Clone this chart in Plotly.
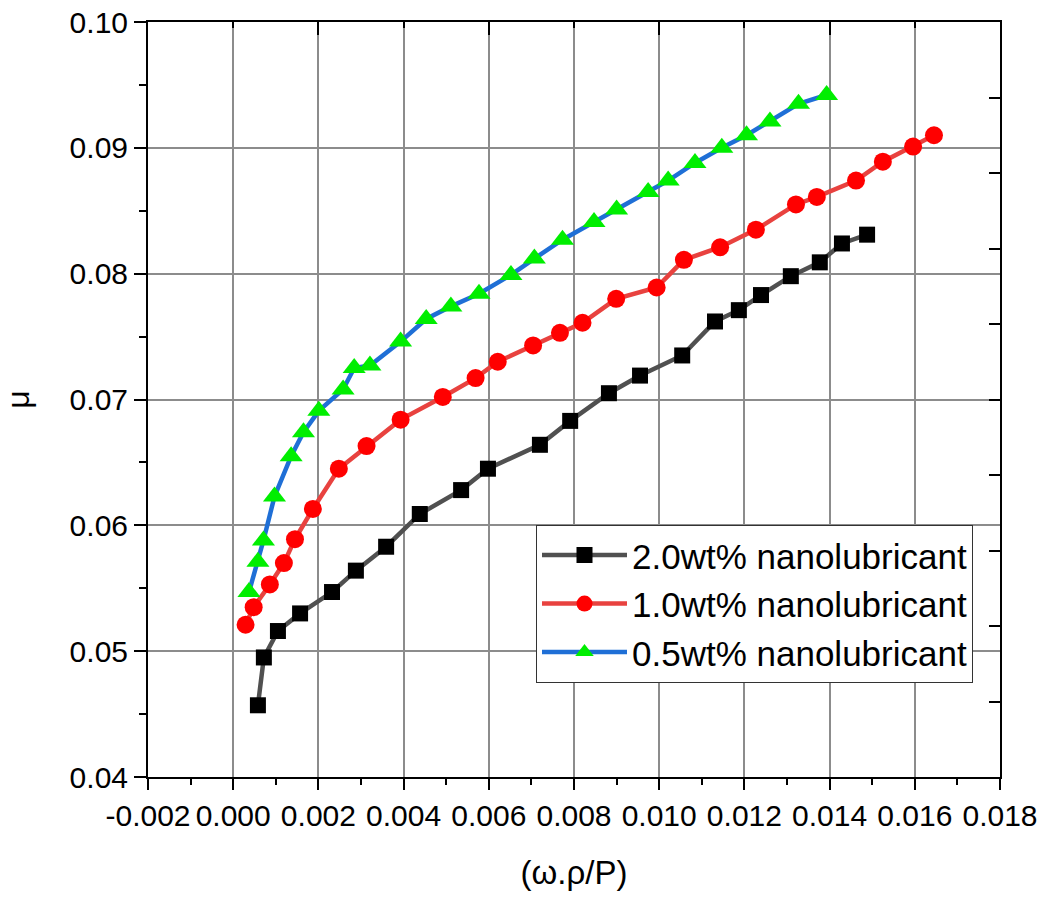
import plotly.graph_objects as go

# ---- data ----
x_20 = [0.00058, 0.00072, 0.00105, 0.00157, 0.00232, 0.00288, 0.00359, 0.00438, 0.00535, 0.00598,
        0.00720, 0.00791, 0.00882, 0.00955, 0.01054, 0.01131, 0.01187, 0.01239, 0.01309, 0.01377,
        0.01429, 0.01488]
y_20 = [0.0457, 0.0495, 0.0516, 0.0530, 0.0547, 0.0564, 0.0583, 0.0609, 0.0628, 0.0645,
        0.0664, 0.0683, 0.0705, 0.0719, 0.0735, 0.0762, 0.0771, 0.0783, 0.0798, 0.0809,
        0.0824, 0.0831]

x_10 = [0.00029, 0.00048, 0.00086, 0.00119, 0.00145, 0.00187, 0.00248, 0.00313, 0.00393, 0.00492,
        0.00569, 0.00621, 0.00704, 0.00767, 0.00820, 0.00899, 0.00994, 0.01058, 0.01143, 0.01227,
        0.01321, 0.01370, 0.01462, 0.01525, 0.01596, 0.01645]
y_10 = [0.0521, 0.0535, 0.0553, 0.0570, 0.0589, 0.0613, 0.0645, 0.0663, 0.0684, 0.0702,
        0.0717, 0.0730, 0.0743, 0.0753, 0.0761, 0.0780, 0.0789, 0.0811, 0.0821, 0.0835,
        0.0855, 0.0861, 0.0874, 0.0889, 0.0901, 0.0910]

x_05 = [0.00037, 0.00058, 0.00071, 0.00097, 0.00136, 0.00165, 0.00201, 0.00258, 0.00284, 0.00321,
        0.00393, 0.00453, 0.00511, 0.00577, 0.00652, 0.00707, 0.00773, 0.00847, 0.00900, 0.00974,
        0.01021, 0.01084, 0.01147, 0.01205, 0.01260, 0.01327, 0.01393]
y_05 = [0.0547, 0.0571, 0.0588, 0.0623, 0.0655, 0.0674, 0.0691, 0.0708, 0.0725, 0.0727,
        0.0746, 0.0764, 0.0774, 0.0784, 0.0799, 0.0812, 0.0827, 0.0841, 0.0851, 0.0865,
        0.0874, 0.0888, 0.0900, 0.0910, 0.0921, 0.0935, 0.0942]

names = ["2.0wt% nanolubricant", "1.0wt% nanolubricant", "0.5wt% nanolubricant"]

x_tick_vals = [-0.002, 0.000, 0.002, 0.004, 0.006, 0.008, 0.010, 0.012, 0.014, 0.016, 0.018]
x_tick_text = ["-0.002", "0.000", "0.002", "0.004", "0.006", "0.008", "0.010", "0.012", "0.014", "0.016", "0.018"]
y_tick_vals = [0.04, 0.05, 0.06, 0.07, 0.08, 0.09, 0.10]
y_tick_text = ["0.04", "0.05", "0.06", "0.07", "0.08", "0.09", "0.10"]

x_range = [-0.002, 0.018]
y_range = [0.04, 0.10]

FONT = "Liberation Sans, Arial, sans-serif"

fig = go.Figure()
fig.add_trace(go.Scatter(x=x_20, y=y_20, name=names[0], mode="lines+markers",
                         line=dict(color="#505050", width=4.5),
                         marker=dict(symbol="square", size=16, color="#000000")))
fig.add_trace(go.Scatter(x=x_10, y=y_10, name=names[1], mode="lines+markers",
                         line=dict(color="#e8423f", width=4.5),
                         marker=dict(symbol="circle", size=18, color="#ff0000")))
fig.add_trace(go.Scatter(x=x_05, y=y_05, name=names[2], mode="lines+markers",
                         line=dict(color="#1f6fd6", width=4.5),
                         marker=dict(symbol="triangle-up", size=20, color="#00ee00")))
# empty trace so the top/right frame axes render their ticks
fig.add_trace(go.Scatter(x=[None], y=[None], xaxis="x2", yaxis="y2", showlegend=False,
                         hoverinfo="skip", mode="markers"))

fig.update_layout(
    width=1040, height=900,
    margin=dict(l=148, r=40, t=22, b=123, autoexpand=False),
    paper_bgcolor="white", plot_bgcolor="white",
    font=dict(family=FONT, color="black"),
    showlegend=True,
    legend=dict(x=0.4554, y=0.334, xanchor="left", yanchor="top",
                bgcolor="white", bordercolor="#333333", borderwidth=1,
                font=dict(family=FONT, size=35, color="black"),
                itemwidth=85, tracegroupgap=0),
    xaxis=dict(range=x_range, tickvals=x_tick_vals, ticktext=x_tick_text, automargin=False,
               showgrid=True, gridcolor="#8c8c8c", gridwidth=1.5, zeroline=False,
               showline=True, linecolor="black", linewidth=2,
               ticks="outside", ticklen=11, tickwidth=2, tickcolor="black",
               minor=dict(ticks="outside", ticklen=6, tickwidth=2, tickcolor="black", dtick=0.001,
                          tick0=-0.002, showgrid=False),
               tickfont=dict(family=FONT, size=30, color="black"),
               title=dict(text="(ω.ρ/P)", font=dict(family=FONT, size=33, color="black"), standoff=30)),
    yaxis=dict(range=y_range, tickvals=y_tick_vals, ticktext=y_tick_text, automargin=False,
               showgrid=True, gridcolor="#8c8c8c", gridwidth=1.5, zeroline=False,
               showline=True, linecolor="black", linewidth=2,
               ticks="outside", ticklen=12, tickwidth=2, tickcolor="black",
               minor=dict(ticks="outside", ticklen=7, tickwidth=2, tickcolor="black", dtick=0.005,
                          tick0=0.04, showgrid=False),
               tickfont=dict(family=FONT, size=30, color="black"),
               title=dict(text="μ", font=dict(family=FONT, size=32, color="black"), standoff=40)),
    xaxis2=dict(range=x_range, overlaying="x", side="top", showgrid=False, zeroline=False,
                automargin=False, showline=True, linecolor="black", linewidth=2,
                tick0=-0.002, dtick=0.004, ticks="inside", ticklen=13, tickwidth=2, tickcolor="black",
                minor=dict(ticks="inside", ticklen=6, tickwidth=2, tickcolor="black", dtick=0.002),
                showticklabels=False),
    yaxis2=dict(range=y_range, overlaying="y", side="right", showgrid=False, zeroline=False,
                automargin=False, showline=True, linecolor="black", linewidth=2,
                tick0=0.04, dtick=0.006, ticks="inside", ticklen=11, tickwidth=2, tickcolor="black",
                showticklabels=False),
)

fig.write_html("out.html")
